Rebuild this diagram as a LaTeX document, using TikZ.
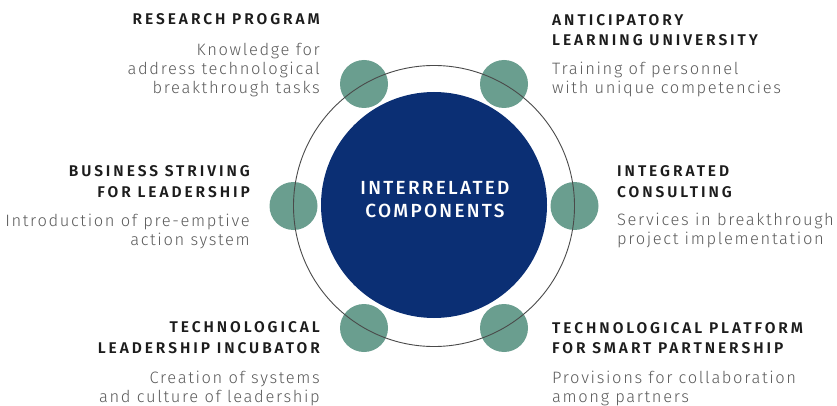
\documentclass[tikz,border=0pt]{standalone}
\usepackage{fontspec}
\setmainfont{Fira Sans}
\newfontfamily\headfont[LetterSpace=19]{Fira Sans SemiBold}
\newfontfamily\bodyfont[LetterSpace=10]{Fira Sans Light}
\newfontfamily\hubfont[LetterSpace=12]{Fira Sans Medium}
\definecolor{hubblue}{HTML}{0B2F74}
\definecolor{dotteal}{HTML}{6A9E8F}
\definecolor{ringgray}{HTML}{4A4A4A}
\definecolor{headcol}{HTML}{1C1C1C}
\definecolor{bodycol}{HTML}{5A5A5A}
\begin{document}
\begin{tikzpicture}[x=1pt,y=-1pt,
  hubstyle/.style={circle,fill=hubblue,minimum size=226pt,inner sep=0pt},
  hubtext/.style={anchor=base,text=white,inner sep=0pt,font=\hubfont\fontsize{19}{23}\selectfont},
  ringstyle/.style={circle,draw=ringgray,line width=0.9pt,minimum size=281pt,inner sep=0pt},
  dotstyle/.style={circle,fill=dotteal,minimum size=48pt,inner sep=0pt},
  headtext/.style={inner sep=0pt,text=headcol,font=\headfont\fontsize{15.5}{20.5}\selectfont},
  bodytext/.style={inner sep=0pt,text=bodycol,font=\bodyfont\fontsize{16.5}{19}\selectfont}]
\useasboundingbox (0,0) rectangle (837,406);

% central disc and its components on the ring
\node[hubstyle] (hub) at (434,205) {};
\node[dotstyle] (dA) at (364,84) {};
\node[dotstyle] (dB) at (504,84) {};
\node[dotstyle] (dC) at (293.5,206) {};
\node[dotstyle] (dD) at (574.5,206) {};
\node[dotstyle] (dE) at (364,328) {};
\node[dotstyle] (dF) at (504,328) {};
\node[ringstyle] (ring) at (434,206) {};

\node[hubtext] (hubA) at (435,194) {INTERRELATED};
\node[hubtext] (hubB) at (435,217) {COMPONENTS};

% research program
\node[headtext,anchor=base east] (h1) at (320,25) {RESEARCH PROGRAM};
\node[bodytext,anchor=base east] (b1a) at (320,56) {Knowledge for};
\node[bodytext,anchor=base east] (b1b) at (320,75) {address technological};
\node[bodytext,anchor=base east] (b1c) at (320,94) {breakthrough tasks};

% anticipatory learning university
\node[headtext,anchor=base west] (h2a) at (552,26) {ANTICIPATORY};
\node[headtext,anchor=base west] (h2b) at (552,46) {LEARNING UNIVERSITY};
\node[bodytext,anchor=base west] (b2a) at (552,75) {Training of personnel};
\node[bodytext,anchor=base west] (b2b) at (552,94) {with unique competencies};

% business striving for leadership
\node[headtext,anchor=base east] (h3a) at (250,176) {BUSINESS STRIVING};
\node[headtext,anchor=base east] (h3b) at (250,197) {FOR LEADERSHIP};
\node[bodytext,anchor=base east] (b3a) at (250,226) {Introduction of pre-emptive};
\node[bodytext,anchor=base east] (b3b) at (250,245) {action system};

% integrated consulting
\node[headtext,anchor=base west] (h4a) at (617,176) {INTEGRATED};
\node[headtext,anchor=base west] (h4b) at (617,197) {CONSULTING};
\node[bodytext,anchor=base west] (b4a) at (617,225) {Services in breakthrough};
\node[bodytext,anchor=base west] (b4b) at (617,244) {project implementation};

% technological leadership incubator
\node[headtext,anchor=base east] (h5a) at (320,332) {TECHNOLOGICAL};
\node[headtext,anchor=base east] (h5b) at (320,353) {LEADERSHIP INCUBATOR};
\node[bodytext,anchor=base east] (b5a) at (320,383) {Creation of systems};
\node[bodytext,anchor=base east] (b5b) at (320,402) {and culture of leadership};

% technological platform for smart partnership
\node[headtext,anchor=base west] (h6a) at (552,333) {TECHNOLOGICAL PLATFORM};
\node[headtext,anchor=base west] (h6b) at (552,353) {FOR SMART PARTNERSHIP};
\node[bodytext,anchor=base west] (b6a) at (552,383) {Provisions for collaboration};
\node[bodytext,anchor=base west] (b6b) at (552,402) {among partners};
\end{tikzpicture}
\end{document}
